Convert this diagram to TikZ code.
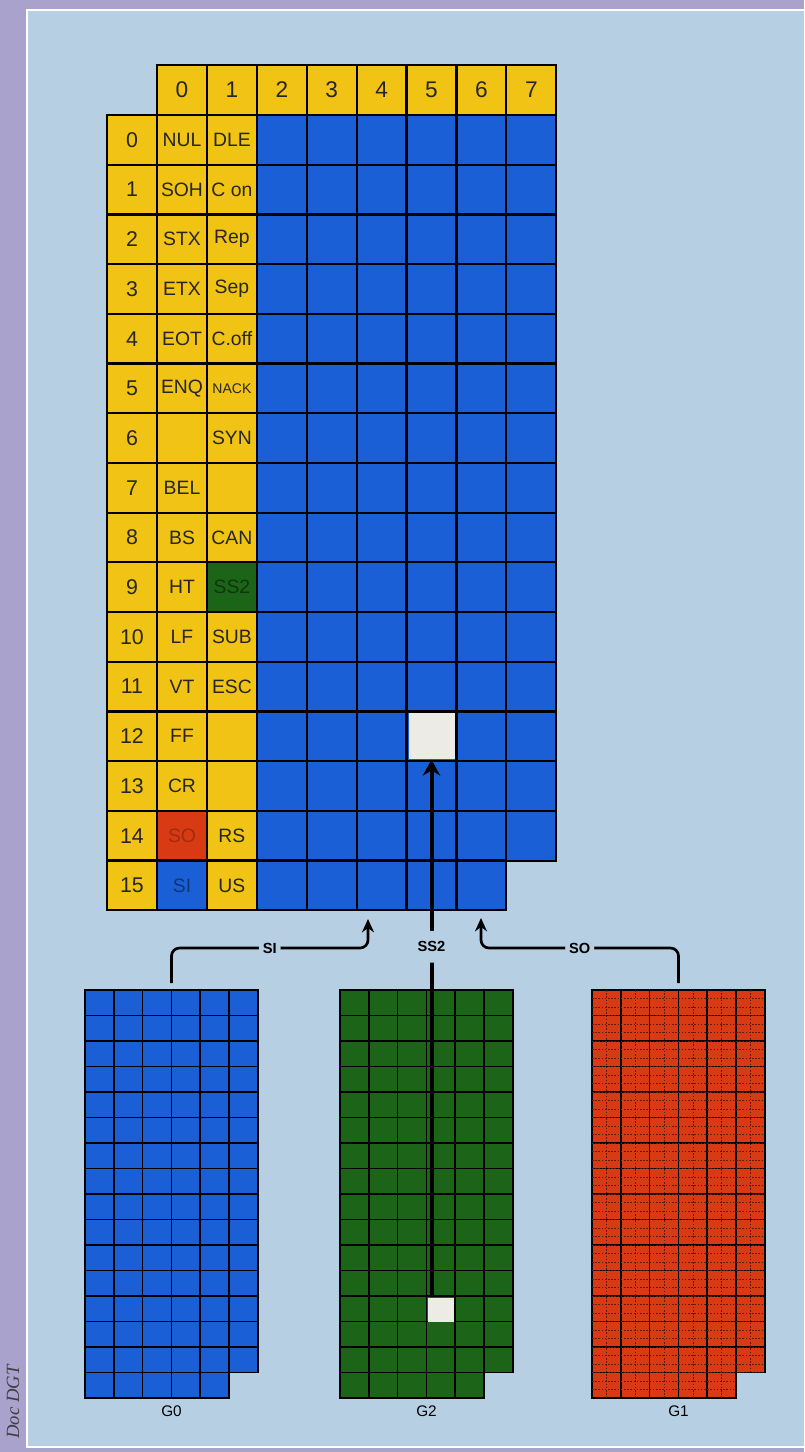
\documentclass[tikz,border=0pt]{standalone}
\usepackage{fontspec}
\setmainfont{Liberation Sans}
\newfontfamily\creditfont{Liberation Serif}
\usetikzlibrary{arrows.meta,positioning}

\definecolor{panel}{HTML}{B7CFE3}
\definecolor{strip}{HTML}{A8A2CC}
\definecolor{ctrl}{HTML}{F0C315}
\definecolor{gzero}{HTML}{1B5FD6}
\definecolor{gtwo}{HTML}{1C6418}
\definecolor{gone}{HTML}{D83B13}
\definecolor{blank}{HTML}{EDEBE5}

\begin{document}
\begin{tikzpicture}[x=0.75pt,y=-0.75pt,
cell/.style={draw,line width=1.6pt,minimum width=37.4pt,minimum height=37.3pt,inner sep=0pt,text=black!85,font=\fontsize{14.5}{14.5}\selectfont},
ctlcell/.style={cell,fill=ctrl},
ctlSO/.style={cell,fill=gone,text=gone!75!black},
ctlSI/.style={cell,fill=gzero,text=gzero!55!black},
ctlSS/.style={cell,fill=gtwo,text=gtwo!55!black},
headcell/.style={ctlcell,font=\fontsize{17}{17}\selectfont},
rowcell/.style={ctlcell,font=\fontsize{16}{16}\selectfont},
setcell/.style={cell,fill=gzero},
hole/.style={fill=blank,inner sep=0pt},
gridline/.style={line width=1.1pt},
subline/.style={line width=0.4pt,gone!45!black,dash pattern=on 1.2pt off 1.2pt},
shiftarrow/.style={line width=2pt,rounded corners=6pt,-{Stealth[length=10pt,width=9pt]}},
shiftlabel/.style={fill=panel,inner xsep=3pt,inner ysep=2pt,font=\bfseries\fontsize{11}{11}\selectfont}
]
\useasboundingbox (0,0) rectangle (804,1452);
\fill[strip] (0,0) rectangle (804,1452);
\fill[panel] (27,10) rectangle (804,1447);
\draw[white,line width=1.2pt] (804,10) -- (27,10) -- (27,1447) -- (804,1447);
\node[rotate=90,text=black!75,font=\creditfont\itshape\fontsize{14}{14}\selectfont] (credit) at (13,1402) {Doc DGT};

% code table
\foreach \c in {0,...,7}
  \node[headcell] (h-\c) at ({182+49.9*\c},90) {\c};
\foreach \r in {0,...,15}
  \node[rowcell] (r-\r) at (132,{139.9+49.7*\r}) {\r};
\foreach \r/\a/\sa/\b/\sb in {0/NUL/ctlcell/DLE/ctlcell,1/SOH/ctlcell/C on/ctlcell,
  2/STX/ctlcell/Rep/ctlcell,3/ETX/ctlcell/Sep/ctlcell,4/EOT/ctlcell/C.off/ctlcell,
  5/ENQ/ctlcell/{\fontsize{10.5}{10.5}\selectfont NACK}/ctlcell,6//ctlcell/SYN/ctlcell,
  7/BEL/ctlcell//ctlcell,8/BS/ctlcell/CAN/ctlcell,9/HT/ctlcell/SS2/ctlSS,
  10/LF/ctlcell/SUB/ctlcell,11/VT/ctlcell/ESC/ctlcell,12/FF/ctlcell//ctlcell,
  13/CR/ctlcell//ctlcell,14/SO/ctlSO/RS/ctlcell,15/SI/ctlSI/US/ctlcell}{
  \node[\sa] (m-0-\r) at (182,{139.9+49.7*\r}) {\a};
  \node[\sb] (m-1-\r) at (231.9,{139.9+49.7*\r}) {\b};
}
\foreach \c/\last in {2/15,3/15,4/15,5/15,6/15,7/14}
  \foreach \r in {0,...,\last}
    \node[setcell] (m-\c-\r) at ({182+49.9*\c},{139.9+49.7*\r}) {};
\node[hole,minimum size=34.5pt] (slot) at (m-5-12) {};

% the three sets
\foreach \x/\setcol/\nm in {85/gzero/G0,340/gtwo/G2,592/gone/G1}{
  \fill[\setcol] (\x,990) -- ++(173,0) -- ++(0,382.5) -- ++(-28.8,0) -- ++(0,25.5) -- (\x,1398) -- cycle;
  \foreach \i in {1,...,5}
    \draw[gridline] ({\x+28.8*\i},990) -- ++(0,408);
  \foreach \j in {1,...,15}
    \draw[gridline] (\x,{990+25.5*\j}) -- ++(173,0);
  \draw[gridline] (\x,990) -- ++(173,0) -- ++(0,382.5) -- ++(-28.8,0) -- ++(0,25.5) -- (\x,1398) -- cycle;
  \node[font=\fontsize{11.5}{11.5}\selectfont] (\nm) at ({\x+86.5},1411) {\nm};
  \coordinate (\nm-top) at ({\x+86.5},983);
}
\begin{scope}
\clip (592,990) -- ++(173,0) -- ++(0,382.5) -- ++(-28.8,0) -- ++(0,25.5) -- (592,1398) -- cycle;
\foreach \i in {0,...,5}
  \draw[subline] ({606.4+28.8*\i},990) -- ++(0,408);
\foreach \k in {1,...,47}
  \draw[subline] (592,{990+8.5*\k}) -- ++(173,0);
\end{scope}
\node[hole,minimum width=19.5pt,minimum height=18pt] (glyph) at (440.8,1309.5) {};

% shifts
\coordinate (si-in) at (368,919);
\coordinate (so-in) at (481,918);
\draw[shiftarrow] (G0-top) -- ++(0,-35) -| node[shiftlabel,pos=0.25] {SI} (si-in);
\draw[shiftarrow] (G1-top) -- ++(0,-35) -| node[shiftlabel,pos=0.25] {SO} (so-in);
\draw[shiftarrow,line width=3pt,-{Stealth[length=12pt,width=13pt]}] (glyph.north -| slot.south) -- node[shiftlabel,pos=0.652,inner ysep=8pt] {SS2} (slot.south);
\end{tikzpicture}
\end{document}
